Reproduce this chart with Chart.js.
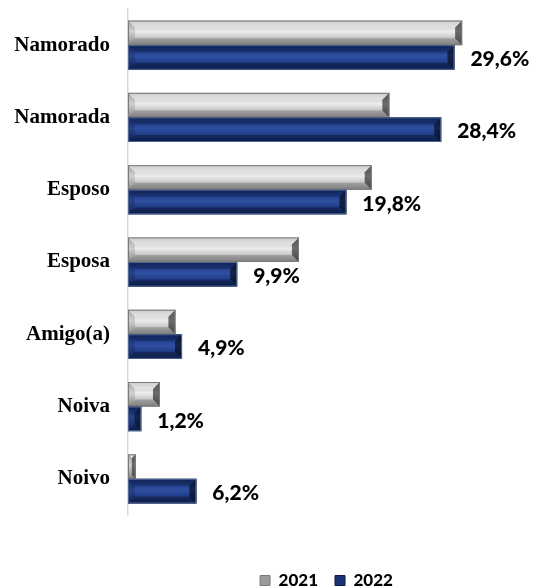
<!DOCTYPE html>
<html>
<head>
<meta charset="utf-8">
<script src="https://cdn.jsdelivr.net/npm/chart.js@4.4.1/dist/chart.umd.min.js"></script>
<style>
  html, body { margin: 0; padding: 0; background: #ffffff; }
  #wrap { width: 534px; height: 586px; position: relative; }
</style>
</head>
<body>
<div id="wrap"><canvas id="c" width="534" height="586"></canvas></div>
<script>
const categories = ["Namorado", "Namorada", "Esposo", "Esposa", "Amigo(a)", "Noiva", "Noivo"];
const seriesNames = ["2021", "2022"];
const values2021 = [30.3, 23.7, 22.1, 15.5, 4.3, 2.9, 0.7];
const values2022 = [29.6, 28.4, 19.8, 9.9, 4.9, 1.2, 6.2];
const labels2022 = ["29,6%", "28,4%", "19,8%", "9,9%", "4,9%", "1,2%", "6,2%"];

const palettes = [
  { base: '#c0c0c0', c1: '#bcbcbc', c2: '#ececec', c3: '#9a9a9a', outline: '#7a7a7a',
    topA: 'rgba(255,255,255,0.25)', botA: 'rgba(0,0,0,0.18)', leftA: 'rgba(0,0,0,0.12)', rightA: 'rgba(0,0,0,0.55)' },
  { base: '#1f3c86', c1: '#132d72', c2: '#2f4fa2', c3: '#11296a', outline: '#52668f',
    topA: 'rgba(0,0,0,0.22)', botA: 'rgba(0,0,0,0.30)', leftA: 'rgba(0,0,0,0.15)', rightA: 'rgba(0,0,0,0.55)' }
];

const bevelPlugin = {
  id: 'bevel',
  afterDatasetsDraw(chart) {
    const ctx = chart.ctx;
    chart.data.datasets.forEach((ds, di) => {
      const meta = chart.getDatasetMeta(di);
      const p = palettes[di];
      meta.data.forEach((el) => {
        const pr = el.getProps(['x', 'y', 'base', 'height'], true);
        const l = Math.min(pr.base, pr.x), r = Math.max(pr.base, pr.x);
        const t = pr.y - pr.height / 2, b = pr.y + pr.height / 2;
        const w = r - l, h = b - t;
        const d = Math.min(7, w / 2, h / 2);
        ctx.save();
        const g = ctx.createLinearGradient(0, t, 0, b);
        g.addColorStop(0, p.c1); g.addColorStop(0.45, p.c2); g.addColorStop(1, p.c3);
        ctx.fillStyle = g;
        ctx.fillRect(l, t, w, h);
        const poly = (pts, col) => {
          ctx.beginPath();
          ctx.moveTo(pts[0][0], pts[0][1]);
          for (let i = 1; i < pts.length; i++) ctx.lineTo(pts[i][0], pts[i][1]);
          ctx.closePath();
          ctx.fillStyle = col; ctx.fill();
        };
        poly([[l, t], [r, t], [r - d, t + d], [l + d, t + d]], p.topA);
        poly([[l, b], [r, b], [r - d, b - d], [l + d, b - d]], p.botA);
        poly([[l, t], [l + d, t + d], [l + d, b - d], [l, b]], p.leftA);
        poly([[r, t], [r - d, t + d], [r - d, b - d], [r, b]], p.rightA);
        ctx.strokeStyle = p.outline; ctx.lineWidth = 1;
        ctx.strokeRect(l + 0.5, t + 0.5, Math.max(0, w - 1), Math.max(0, h - 1));
        ctx.restore();
      });
    });
    const meta = chart.getDatasetMeta(1);
    ctx.save();
    ctx.font = '900 21px Lato';
    ctx.fillStyle = '#000000';
    ctx.textAlign = 'left';
    ctx.textBaseline = 'middle';
    meta.data.forEach((el, i) => {
      const pr = el.getProps(['x', 'y'], true);
      ctx.fillText(labels2022[i], pr.x + 16, pr.y + 2);
    });
    ctx.restore();
  }
};

const legendShift = {
  id: 'legendShift',
  afterLayout(chart) {
    const lg = chart.legend;
    if (!lg) return;
    const dx = 64, dy = 40;
    lg.left += dx; lg.right += dx;
    lg.top += dy; lg.bottom += dy;
  }
};

new Chart(document.getElementById('c'), {
  type: 'bar',
  data: {
    labels: categories,
    datasets: [
      { label: seriesNames[0], data: values2021, backgroundColor: palettes[0].base,
        borderWidth: 0, categoryPercentage: 0.68, barPercentage: 1.0 },
      { label: seriesNames[1], data: values2022, backgroundColor: palettes[1].base,
        borderWidth: 0, categoryPercentage: 0.68, barPercentage: 1.0 }
    ]
  },
  options: {
    indexAxis: 'y',
    responsive: false,
    animation: false,
    layout: { padding: { top: 9, right: 9, bottom: 27, left: 0 } },
    scales: {
      x: { display: false, min: 0, max: 36 },
      y: {
        grid: { display: false, drawTicks: false },
        border: { display: true, color: '#d9d9d9', width: 1.5 },
        ticks: { color: '#000000', padding: 18,
          font: { family: 'Liberation Serif', weight: 'bold', size: 21 } },
        afterFit(scale) { scale.width = 128; scale.paddingTop = 0; scale.paddingBottom = 0; }
      }
    },
    plugins: {
      tooltip: { enabled: false },
      legend: {
        position: 'bottom',
        labels: {
          boxWidth: 10, boxHeight: 10, padding: 17, color: '#000000',
          font: { family: 'Lato', weight: '900', size: 17 },
          generateLabels(chart) {
            return chart.data.datasets.map((ds, i) => ({
              text: ds.label, fillStyle: i === 0 ? '#9a9a9a' : '#1a3374',
              strokeStyle: i === 0 ? '#7a7a7a' : '#0c1a45', lineWidth: 1,
              hidden: false, datasetIndex: i, fontColor: '#000000'
            }));
          }
        }
      }
    }
  },
  plugins: [bevelPlugin, legendShift]
});
</script>
</body>
</html>
